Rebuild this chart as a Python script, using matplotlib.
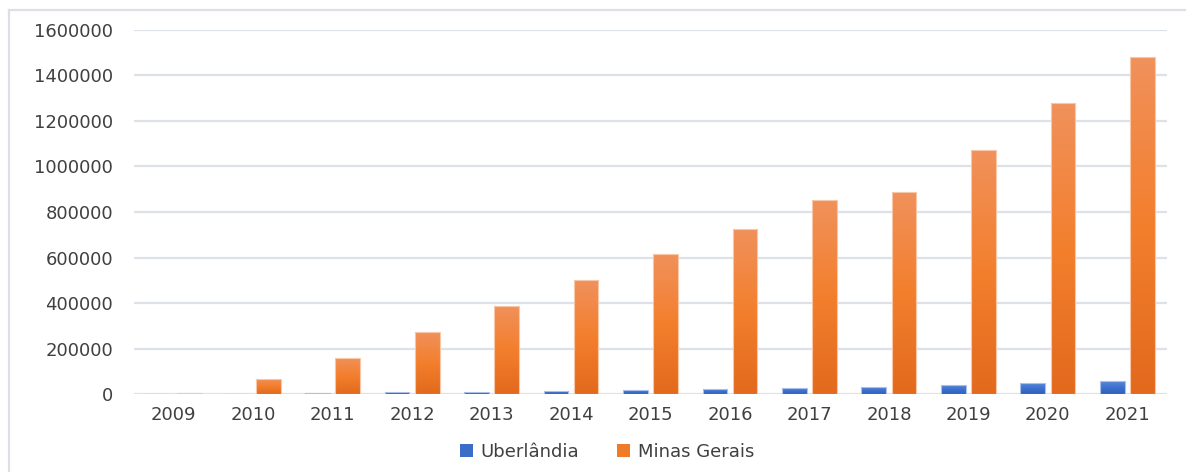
import numpy as np
import matplotlib
matplotlib.use("Agg")
import matplotlib.pyplot as plt
from matplotlib.colors import LinearSegmentedColormap
from matplotlib.patches import Patch
from matplotlib.lines import Line2D

years = ["2009", "2010", "2011", "2012", "2013", "2014", "2015",
         "2016", "2017", "2018", "2019", "2020", "2021"]
uberlandia = [600, 1200, 5000, 9000, 12000, 16000, 20000,
              25000, 30000, 34000, 41000, 52000, 61000]
minas_gerais = [5000, 70000, 159000, 275000, 386000, 501000, 615000,
                727000, 852000, 890000, 1073000, 1279000, 1482000]
yticks = [0, 200000, 400000, 600000, 800000, 1000000, 1200000, 1400000, 1600000]

plt.rcParams['font.family'] = ['DejaVu Sans']

fig = plt.figure(figsize=(11.86, 4.72), dpi=100)
ax = fig.add_axes([0.1130, 0.1642, 0.8710, 0.7729])

x = np.arange(len(years))
w = 0.31
off = 0.19

blue_cm = LinearSegmentedColormap.from_list("b", ["#2D61BD", "#3F72CF", "#5D8CDB"])
orange_cm = LinearSegmentedColormap.from_list("o", ["#E2691D", "#F37F2D", "#F0915C"])

grad = np.linspace(0, 1, 256).reshape(-1, 1)

def gradient_bars(bars, cmap, edge):
    for b in bars:
        x0, y0 = b.get_x(), b.get_y()
        bw, bh = b.get_width(), b.get_height()
        b.set_facecolor("none")
        b.set_edgecolor(edge)
        b.set_linewidth(0.8)
        b.set_zorder(4)
        im = ax.imshow(grad, cmap=cmap, origin="lower", aspect="auto",
                       extent=[x0, x0 + bw, y0, y0 + bh], zorder=3,
                       interpolation="bilinear")
        im.set_clip_path(b)

b1 = ax.bar(x - off, uberlandia, w)
b2 = ax.bar(x + off, minas_gerais, w)
gradient_bars(b1, blue_cm, "#A9C0EC")
gradient_bars(b2, orange_cm, "#F8C7A8")

ax.set_xlim(-0.5, len(years) - 0.5)
ax.set_ylim(0, 1600000)
ax.set_yticks(yticks)
ax.set_yticklabels([str(v) for v in yticks])
ax.set_xticks(x)
ax.set_xticklabels(years)
ax.tick_params(axis="both", length=0, labelsize=13, colors="#404040")
ax.tick_params(axis="y", pad=15)
ax.tick_params(axis="x", pad=8)
ax.grid(axis="y", color="#DDE1E8", linewidth=1.6, zorder=0)
ax.set_axisbelow(True)
for s in ax.spines.values():
    s.set_visible(False)

# outer chart frame (top and left only visible in the crop)
fig.add_artist(Line2D([9 / 1186, 1.01], [1 - 10 / 472, 1 - 10 / 472],
                      transform=fig.transFigure, color="#DCE0E6", linewidth=1.6))
fig.add_artist(Line2D([9 / 1186, 9 / 1186], [-0.01, 1 - 10 / 472],
                      transform=fig.transFigure, color="#DCE0E6", linewidth=1.6))

handles = [Patch(facecolor="#3A6CC8", edgecolor="none", label="Uberlândia"),
           Patch(facecolor="#EE7A2A", edgecolor="none", label="Minas Gerais")]
fig.legend(handles=handles, loc="center", bbox_to_anchor=(0.512, 1 - 452 / 472),
           ncol=2, frameon=False, fontsize=13, handlelength=0.7, handleheight=0.7,
           handletextpad=0.45, columnspacing=2.1, labelcolor="#404040")

fig.savefig("out.png", dpi=100)
